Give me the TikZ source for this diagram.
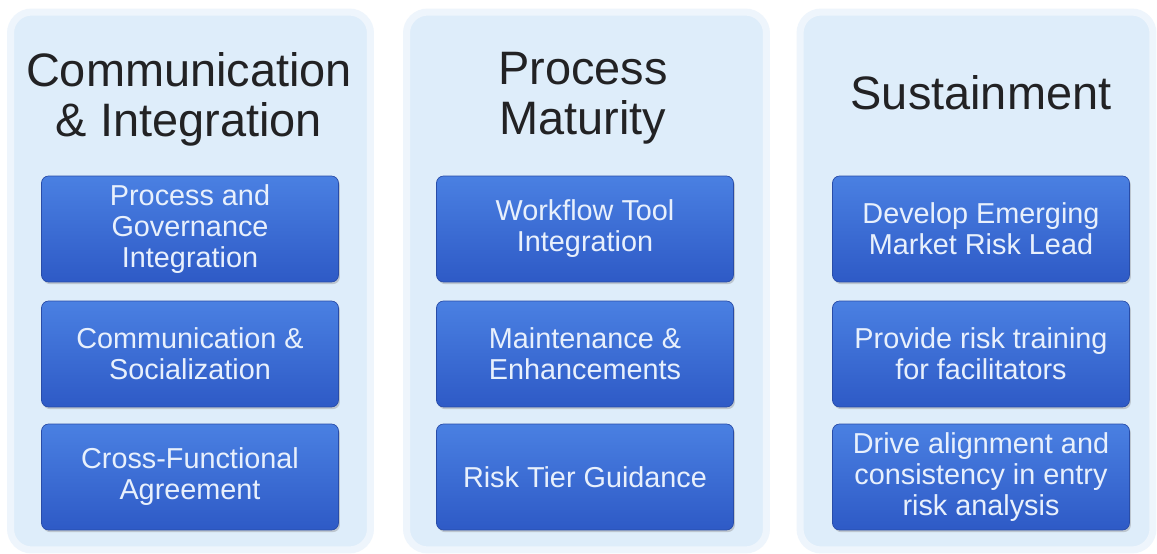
\documentclass[tikz,border=0pt]{standalone}
\usepackage{fontspec}
\setmainfont{Liberation Sans}
\usetikzlibrary{shadows}
\definecolor{panelblue}{RGB}{222,237,250}
\definecolor{paneledge}{RGB}{238,245,252}
\definecolor{boxtop}{RGB}{74,128,226}
\definecolor{boxbot}{RGB}{46,90,198}
\definecolor{boxline}{RGB}{40,76,168}
\definecolor{boxtext}{RGB}{232,240,252}
\definecolor{titlegray}{RGB}{34,34,36}
\begin{document}
\begin{tikzpicture}[x=0.02cm,y=-0.02cm,
  panel/.style={draw=paneledge,line width=4pt,fill=panelblue,rounded corners=12pt,inner sep=0pt},
  title/.style={align=center,text=titlegray,font=\fontsize{26.7}{28.5}\selectfont},
  task/.style={draw=boxline,line width=0.4pt,top color=boxtop,bottom color=boxbot,
    rounded corners=4pt,minimum width=5.94cm,minimum height=2.12cm,align=center,
    text=boxtext,font=\fontsize{16.4}{17.6}\selectfont,
    drop shadow={opacity=0.35,shadow xshift=0.8pt,shadow yshift=-1.2pt}}]
\useasboundingbox (0,0) rectangle (1157,554);
\fill[white] (0,0) rectangle (1157,554);
%\draw[step=50,gray,very thin] (0,0) grid (1157,554); %background grid
% background panels
\node[panel,minimum width=7.2cm,minimum height=10.76cm] (panelA) at (190.5,281) {};
\node[panel,minimum width=7.2cm,minimum height=10.76cm] (panelB) at (586.5,281) {};
\node[panel,minimum width=7.06cm,minimum height=10.76cm] (panelC) at (976.5,281) {};
% column headings
\node[title] (headA) at (189,99) {Communication\\\& Integration};
\node[title] (headB) at (583,98) {Process\\Maturity};
\node[title] (headC) at (981,93) {Sustainment};
% first column
\node[task] (comA) at (190,229) {Process and\\Governance\\Integration};
\node[task] (comB) at (190,354) {Communication \&\\Socialization};
\node[task] (comC) at (190,477) {Cross-Functional\\Agreement};
% second column
\node[task] (matA) at (585,229) {Workflow Tool\\Integration};
\node[task] (matB) at (585,354) {Maintenance \&\\Enhancements};
\node[task] (matC) at (585,477) {Risk Tier Guidance};
% third column
\node[task] (susA) at (981,229) {Develop Emerging\\Market Risk Lead};
\node[task] (susB) at (981,354) {Provide risk training\\for facilitators};
\node[task] (susC) at (981,477) {Drive alignment and\\consistency in entry\\risk analysis};
\end{tikzpicture}
\end{document}
